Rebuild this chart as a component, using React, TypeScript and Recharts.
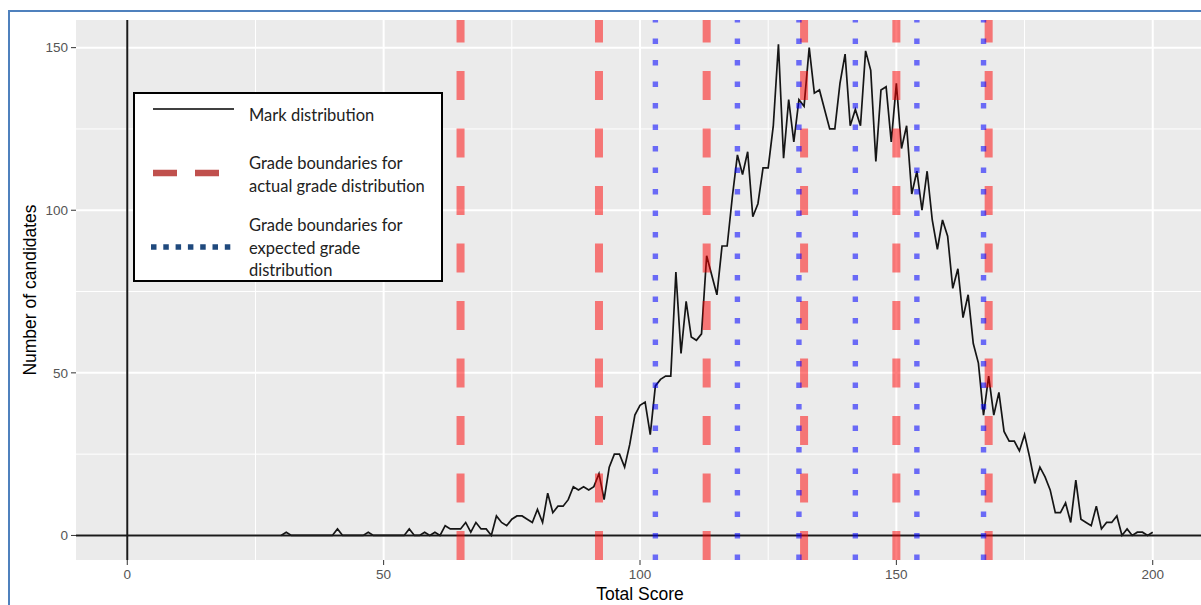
import React from "react";
import { LineChart, Line, XAxis, YAxis, CartesianGrid, ReferenceLine } from "recharts";

// 点数ごとの受験者数（30点〜200点）
const firstScore = 30;
const candidateCounts = [
  0, 1, 0, 0, 0, 0, 0, 0, 0, 0, // 30-39
  0, 2, 0, 0, 0, 0, 0, 1, 0, 0, // 40-49
  0, 0, 0, 0, 0, 2, 0, 0, 1, 0, // 50-59
  1, 0, 3, 2, 2, 2, 4, 1, 4, 2, // 60-69
  2, 0, 6, 4, 3, 5, 6, 6, 5, 4, // 70-79
  8, 4, 13, 7, 9, 9, 11, 15, 14, 15, // 80-89
  14, 15, 19, 11, 21, 25, 25, 21, 28, 37, // 90-99
  40, 41, 31, 46, 48, 49, 49, 81, 56, 72, // 100-109
  61, 60, 62, 86, 80, 74, 89, 89, 104, 117, // 110-119
  111, 118, 98, 102, 113, 113, 126, 151, 116, 134, // 120-129
  121, 134, 132, 150, 136, 137, 131, 125, 125, 139, // 130-139
  148, 126, 131, 126, 149, 143, 115, 137, 138, 121, // 140-149
  139, 119, 126, 105, 112, 100, 112, 97, 88, 97, // 150-159
  92, 76, 82, 67, 74, 59, 53, 37, 49, 37, // 160-169
  44, 32, 29, 29, 26, 31, 24, 16, 21, 18, // 170-179
  14, 7, 7, 10, 4, 17, 5, 4, 3, 9, // 180-189
  2, 4, 4, 6, 0, 2, 0, 1, 1, 0, // 190-199
  1, // 200
];

const actualBoundaries = [65, 92, 113, 132, 150, 168];
const expectedBoundaries = [103, 119, 131, 142, 154, 167];

const xTicks = [0, 50, 100, 150, 200];
const yTicks = [0, 50, 100, 150];
const xMinor = [25, 75, 125, 175];
const yMinor = [25, 75, 125];

const data = candidateCounts.map((count, i) => ({ score: firstScore + i, count }));

const titleFont = '"Liberation Sans", Arial, sans-serif';
const legendFont = 'Lato, "Open Sans", sans-serif';

function GradeLegend() {
  return (
    <div
      style={{
        position: "absolute",
        left: 133,
        top: 92,
        width: 310,
        height: 190,
        boxSizing: "border-box",
        border: "2px solid #000",
        background: "#fff",
        fontFamily: legendFont,
        fontSize: 16.5,
        lineHeight: "22.5px",
        color: "#222",
      }}
    >
      <svg style={{ position: "absolute", left: 0, top: 0 }} width={306} height={186}>
        <line x1={18} x2={99} y1={15} y2={15} stroke="#000" strokeWidth={1.5} />
        <line x1={18} x2={85} y1={79} y2={79} stroke="#C0504D" strokeWidth={6.5} strokeDasharray="24 18" />
        <line x1={16} x2={96} y1={153} y2={153} stroke="#1F497D" strokeWidth={5.5} strokeDasharray="5.5 6.8" />
      </svg>
      <div style={{ position: "absolute", left: 114, top: 10, whiteSpace: "nowrap" }}>Mark distribution</div>
      <div style={{ position: "absolute", left: 114, top: 58, whiteSpace: "nowrap" }}>
        Grade boundaries for
        <br />
        actual grade distribution
      </div>
      <div style={{ position: "absolute", left: 114, top: 120, whiteSpace: "nowrap" }}>
        Grade boundaries for
        <br />
        expected grade
        <br />
        distribution
      </div>
    </div>
  );
}

export default function App() {
  return (
    <div
      style={{
        position: "fixed",
        left: 0,
        top: 0,
        width: 1201,
        height: 605,
        overflow: "hidden",
        background: "#fff",
      }}
    >
      {/* 外枠（左・上） */}
      <div
        style={{
          position: "absolute",
          left: 8,
          top: 10,
          width: 1300,
          height: 700,
          borderLeft: "2px solid #4F81BD",
          borderTop: "2px solid #4F81BD",
        }}
      />
      <div style={{ position: "absolute", left: 0, top: 0 }}>
        <LineChart width={1204} height={605} data={data} margin={{ top: 20, right: 0, bottom: 0, left: 0 }}>
          <CartesianGrid
            fill="#EBEBEB"
            stroke="#FFFFFF"
            strokeWidth={1}
            verticalValues={xMinor}
            horizontalValues={yMinor}
          />
          <CartesianGrid
            fill="none"
            stroke="#FFFFFF"
            strokeWidth={2}
            verticalValues={xTicks}
            horizontalValues={yTicks}
          />
          <XAxis
            dataKey="score"
            type="number"
            domain={[-10, 210]}
            ticks={xTicks}
            allowDataOverflow
            height={45}
            axisLine={false}
            tickLine={{ stroke: "#333" }}
            tickSize={5}
            tickMargin={4}
            tick={{ fill: "#555", fontSize: 13.5, fontFamily: titleFont }}
          />
          <YAxis
            type="number"
            domain={[-7.55, 158.5]}
            ticks={yTicks}
            allowDataOverflow
            width={76}
            axisLine={false}
            tickLine={{ stroke: "#333" }}
            tickSize={5}
            tickMargin={3}
            tick={{ fill: "#555", fontSize: 13.5, fontFamily: titleFont }}
          />
          <Line
            type="linear"
            dataKey="count"
            stroke="#151515"
            strokeWidth={1.7}
            dot={false}
            activeDot={false}
            isAnimationActive={false}
          />
          <ReferenceLine y={0} stroke="#1a1a1a" strokeWidth={2} />
          <ReferenceLine x={0} stroke="#1a1a1a" strokeWidth={2} />
          {actualBoundaries.map((b) => (
            <ReferenceLine
              key={`a${b}`}
              x={b}
              stroke="#FF0000"
              strokeOpacity={0.5}
              strokeWidth={8}
              strokeDasharray="29 28.5"
            />
          ))}
          {expectedBoundaries.map((b) => (
            <ReferenceLine
              key={`e${b}`}
              x={b}
              stroke="#0000FF"
              strokeOpacity={0.55}
              strokeWidth={5.4}
              strokeDasharray="5.4 16.1"
            />
          ))}
        </LineChart>
      </div>
      <div
        style={{
          position: "absolute",
          left: 30,
          top: 290,
          transform: "translate(-50%, -50%) rotate(-90deg)",
          whiteSpace: "nowrap",
          fontFamily: titleFont,
          fontSize: 17.5,
          color: "#000",
        }}
      >
        Number of candidates
      </div>
      <div
        style={{
          position: "absolute",
          left: 640,
          top: 594,
          transform: "translate(-50%, -50%)",
          whiteSpace: "nowrap",
          fontFamily: titleFont,
          fontSize: 17.5,
          color: "#000",
        }}
      >
        Total Score
      </div>
      <GradeLegend />
    </div>
  );
}
